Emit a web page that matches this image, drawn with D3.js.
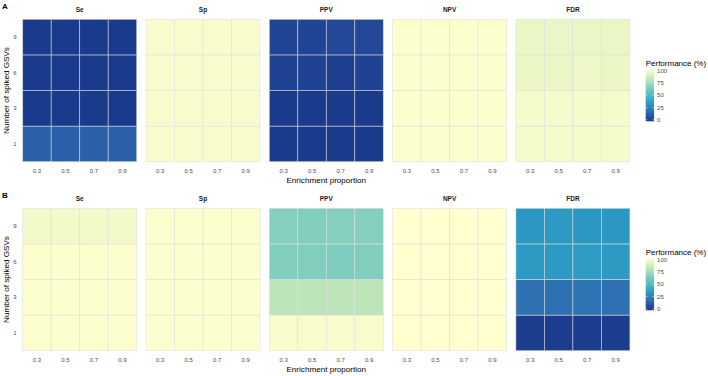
<!DOCTYPE html>
<html>
<head>
<meta charset="utf-8">
<script src="https://cdn.jsdelivr.net/npm/d3@7"></script>
<style>
  body { margin: 0; background: #fff; }
  text { font-family: "Liberation Sans", Arial, sans-serif; }
</style>
</head>
<body>
<div id="chart"></div>
<script>
// categories
var metrics = ["Se", "Sp", "PPV", "NPV", "FDR"];
var enrichment = ["0.3", "0.5", "0.7", "0.9"];
var spiked = ["1", "3", "6", "9"];
var legendTicks = [0, 25, 50, 75, 100];

// performance (%) per metric, rows = spiked (1,3,6,9), cols = enrichment
var aSe  = [[15, 14, 15, 14], [1, 1, 1, 1], [1, 1, 1, 1], [1, 1, 1, 1]];
var aSp  = [[98, 98, 98, 98], [98, 98, 98, 98], [98, 98, 98, 98], [98, 98, 98, 98]];
var aPPV = [[1, 1, 1, 1], [1, 1, 1, 1], [4, 4, 3, 4], [5, 5, 6, 6]];
var aNPV = [[99, 99, 99, 99], [99, 99, 99, 99], [99, 99, 99, 99], [99, 99, 99, 99]];
var aFDR = [[97, 97, 97, 97], [97, 97, 97, 97], [94, 94, 95, 94], [93, 93, 93, 93]];

var bSe  = [[99, 99, 99, 99], [99, 99, 99, 99], [99, 99, 99, 99], [96, 96, 96, 96]];
var bSp  = [[99, 99, 99, 99], [99, 99, 99, 99], [99, 99, 99, 99], [99, 99, 99, 99]];
var bPPV = [[98, 98, 98, 98], [80, 80, 80, 80], [65, 65, 64, 65], [66, 65, 66, 66]];
var bNPV = [[100, 100, 100, 100], [100, 100, 100, 100], [100, 100, 100, 100], [100, 100, 100, 100]];
var bFDR = [[2, 2, 2, 2], [20, 20, 21, 20], [35, 35, 36, 35], [34, 35, 34, 34]];

var figures = [
  {tag: "A", top: 19.3, data: [aSe, aSp, aPPV, aNPV, aFDR]},
  {tag: "B", top: 208.3, data: [bSe, bSp, bPPV, bNPV, bFDR]}
];

var width = 708, height = 376;
var panelW = 114, panelH = 142.4, panelStep = 123.3, left0 = 22.7;
var tileAlpha = 0.95;

var palette = ["#0c2c84", "#225ea8", "#1d91c0", "#41b6c4", "#7fcdbb", "#c7e9b4", "#ffffcc"];
var color = d3.scaleLinear()
  .domain(d3.range(palette.length).map(function(i) { return i * 100 / (palette.length - 1); }))
  .range(palette)
  .interpolate(d3.interpolateLab);

var svg = d3.select("#chart").append("svg")
  .attr("width", width)
  .attr("height", height);

figures.forEach(function(fig) {
  var top = fig.top;
  var bottom = top + panelH;

  svg.append("text")
    .attr("x", 2).attr("y", top - 10.5)
    .attr("font-size", 8).attr("font-weight", "bold")
    .text(fig.tag);

  var y = d3.scaleBand().domain(spiked.slice().reverse()).range([top, bottom]);

  metrics.forEach(function(m, mi) {
    var x0 = left0 + mi * panelStep;
    var x = d3.scaleBand().domain(enrichment).range([x0, x0 + panelW]);
    var cells = [];
    fig.data[mi].forEach(function(row, ri) {
      row.forEach(function(v, ci) {
        cells.push({s: spiked[ri], e: enrichment[ci], v: v});
      });
    });

    var g = svg.append("g");
    g.selectAll("rect")
      .data(cells)
      .enter()
      .append("rect")
      .attr("x", function(d) { return x(d.e); })
      .attr("y", function(d) { return y(d.s); })
      .attr("width", x.bandwidth())
      .attr("height", y.bandwidth())
      .attr("fill", function(d) { return color(d.v); })
      .attr("fill-opacity", tileAlpha)
      .attr("stroke", "#dedede")
      .attr("stroke-opacity", 0.75)
      .attr("stroke-width", 0.7);

    // strip label
    svg.append("text")
      .attr("x", x0 + panelW / 2).attr("y", top - 7)
      .attr("text-anchor", "middle")
      .attr("font-size", 6.5).attr("font-weight", "bold")
      .attr("fill", "#1a1a1a")
      .text(m);

    // x axis
    var xa = svg.append("g")
      .attr("transform", "translate(0," + (bottom + 2.5) + ")")
      .call(d3.axisBottom(x).tickSize(0).tickPadding(5));
    xa.select(".domain").remove();
    xa.selectAll("text")
      .attr("font-size", 6).attr("fill", "#4d4d4d")
      .attr("font-family", "Liberation Sans, Arial, sans-serif");
  });

  // y axis
  var ya = svg.append("g")
    .attr("transform", "translate(" + (left0 - 3) + ",0)")
    .call(d3.axisLeft(y).tickSize(0).tickPadding(3));
  ya.select(".domain").remove();
  ya.selectAll("text")
    .attr("font-size", 6).attr("fill", "#4d4d4d")
    .attr("font-family", "Liberation Sans, Arial, sans-serif");

  svg.append("text")
    .attr("transform", "translate(9," + (top + panelH / 2) + ") rotate(-90)")
    .attr("text-anchor", "middle")
    .attr("font-size", 8.1)
    .text("Number of spiked GSVs");

  svg.append("text")
    .attr("x", left0 + 2 * panelStep + panelW / 2).attr("y", bottom + 21.5)
    .attr("text-anchor", "middle")
    .attr("font-size", 8.1)
    .text("Enrichment proportion");

  // legend
  var legTop = top + 50;
  var ly = d3.scaleLinear().domain([0, 100]).range([legTop + 50.5, legTop + 1.5]);
  var lx = 645.7, lw = 8.4;
  svg.append("text")
    .attr("x", lx).attr("y", legTop - 3.5)
    .attr("font-size", 8)
    .text("Performance (%)");

  var grad = svg.append("defs").append("linearGradient")
    .attr("id", "grad" + fig.tag)
    .attr("x1", 0).attr("y1", 1).attr("x2", 0).attr("y2", 0);
  d3.range(0, 101, 5).forEach(function(v) {
    grad.append("stop").attr("offset", v / 100).attr("stop-color", color(v));
  });
  svg.append("rect")
    .attr("x", lx).attr("y", legTop)
    .attr("width", lw).attr("height", 52)
    .attr("fill", "url(#grad" + fig.tag + ")")
    .attr("fill-opacity", tileAlpha);

  var lt = svg.append("g");
  legendTicks.forEach(function(t) {
    lt.append("line").attr("x1", lx).attr("x2", lx + 1.7)
      .attr("y1", ly(t)).attr("y2", ly(t))
      .attr("stroke", "#fff").attr("stroke-width", 0.5);
    lt.append("line").attr("x1", lx + lw - 1.7).attr("x2", lx + lw)
      .attr("y1", ly(t)).attr("y2", ly(t))
      .attr("stroke", "#fff").attr("stroke-width", 0.5);
    lt.append("text")
      .attr("x", lx + lw + 3).attr("y", ly(t) + 2.1)
      .attr("font-size", 6).attr("fill", "#4d4d4d")
      .text(t);
  });
});
</script>
</body>
</html>
